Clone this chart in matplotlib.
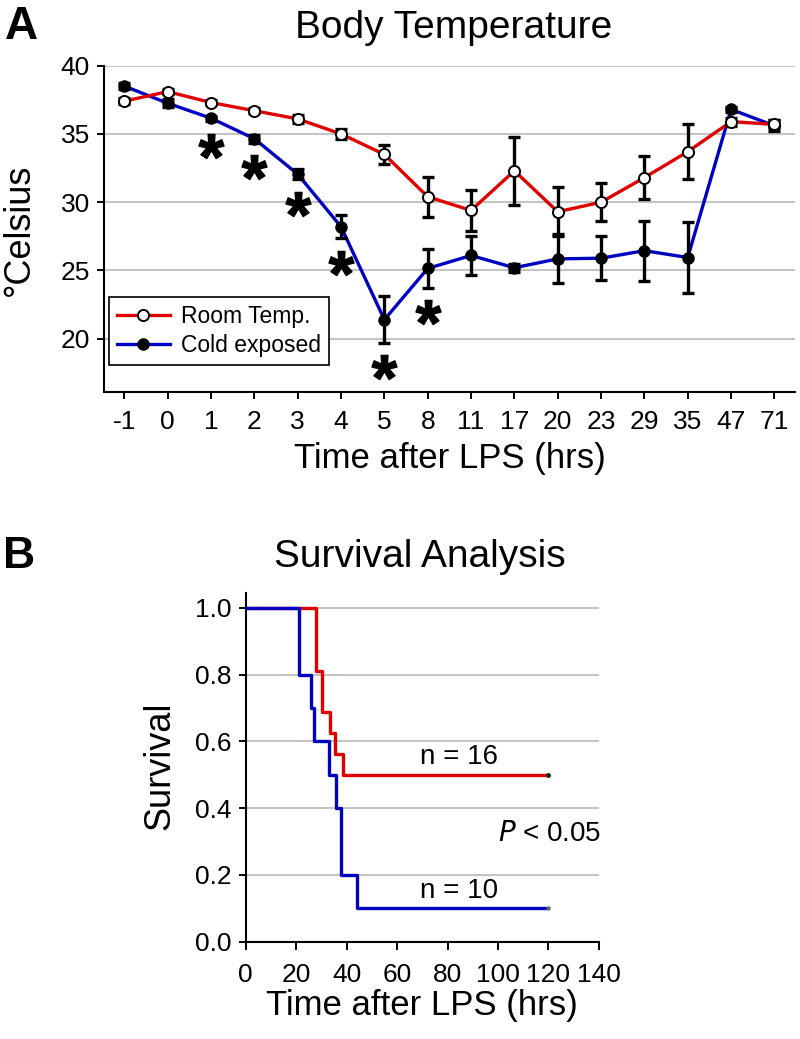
import matplotlib
matplotlib.use("Agg")
import matplotlib.pyplot as plt
import numpy as np
from matplotlib.lines import Line2D
from matplotlib.path import Path
from matplotlib.textpath import TextPath
from matplotlib.font_manager import FontProperties

plt.rcParams["font.family"] = ["Liberation Sans", "DejaVu Sans"]

# ── Panel A: body temperature (mean ± error, °C) ────────────────────────────
time_labels = ["-1", "0", "1", "2", "3", "4", "5", "8", "11", "17",
               "20", "23", "29", "35", "47", "71"]
room_temp = [37.4, 38.1, 37.3, 36.7, 36.1, 35.0, 33.5, 30.4, 29.4, 32.3,
             29.3, 30.0, 31.8, 33.7, 35.9, 35.7]
room_err = [0.2, 0.2, 0.2, 0.2, 0.3, 0.35, 0.7, 1.45, 1.5, 2.5,
            1.8, 1.4, 1.6, 2.0, 0.3, 0.3]
cold_temp = [38.5, 37.25, 36.15, 34.65, 32.05, 28.2, 21.4, 25.15, 26.1, 25.2,
             25.85, 25.9, 26.45, 25.95, 36.8, 35.6]
cold_err = [0.2, 0.3, 0.2, 0.3, 0.35, 0.85, 1.7, 1.4, 1.45, 0.3,
            1.8, 1.6, 2.2, 2.6, 0.2, 0.4]
significant = ["1", "2", "3", "4", "5", "8"]

# ── Panel B: Kaplan-Meier survival steps ────────────────────────────────────
room_surv_t = [0, 27.9, 30.1, 33.4, 35.4, 38.7, 120]
room_surv = [1.0, 0.8125, 0.6875, 0.625, 0.5625, 0.5, 0.5]
cold_surv_t = [0, 21.1, 25.9, 27.2, 33.0, 35.7, 37.9, 44.0, 120]
cold_surv = [1.0, 0.8, 0.7, 0.6, 0.5, 0.4, 0.2, 0.1, 0.1]
n_room, n_cold = 16, 10

RED = "#e00000"
BLUE = "#0000c0"
GRID = "#c4c4c4"

fig = plt.figure(figsize=(8.0, 10.39), dpi=100)


def style_axes(ax):
    for side in ("top", "right"):
        ax.spines[side].set_visible(False)
    for side in ("left", "bottom"):
        ax.spines[side].set_linewidth(1.5)
    ax.tick_params(direction="out", length=5, width=1.4, labelsize=19, pad=5)
    ax.yaxis.grid(True, color=GRID, linewidth=1.5)
    ax.set_axisbelow(True)


def star_marker():
    """Bold asterisk glyph as a marker path, centred on its ink."""
    tp = TextPath((0, 0), "*", prop=FontProperties(family="Liberation Sans",
                                                   weight="bold"))
    verts = tp.vertices.copy()
    codes = tp.codes
    ink = codes != Path.CLOSEPOLY
    verts -= (verts[ink].min(axis=0) + verts[ink].max(axis=0)) / 2
    verts[~ink] = 0
    return Path(verts, codes)


# ---------------- A ----------------
axA = fig.add_axes([0.13, 0.6227, 0.864, 0.3141])
style_axes(axA)
x = np.arange(len(time_labels))

axA.plot(x, cold_temp, color=BLUE, lw=2.4, zorder=2)
axA.plot(x, room_temp, color=RED, lw=2.4, zorder=2)
axA.errorbar(x, cold_temp, yerr=cold_err, fmt="none", ecolor="black",
             elinewidth=2.4, capsize=4.5, capthick=2.4, zorder=3)
axA.errorbar(x, room_temp, yerr=room_err, fmt="none", ecolor="black",
             elinewidth=2.4, capsize=4.5, capthick=2.4, zorder=3)
axA.plot(x, cold_temp, ls="none", marker="o", ms=8, mfc="black",
         mec="black", zorder=4)
axA.plot(x, room_temp, ls="none", marker="o", ms=8, mfc="white",
         mec="black", mew=1.4, zorder=5)

# significance asterisks below the cold-exposed points
sig_idx = [time_labels.index(t) for t in significant]
sig_y = [cold_temp[i] - cold_err[i] - 1.8 for i in sig_idx]
axA.plot(sig_idx, sig_y, ls="none", marker=star_marker(), ms=18,
         color="black", zorder=5)

axA.set_xlim(-0.47, 15.48)
axA.set_ylim(16.1, 40)
axA.set_yticks([20, 25, 30, 35, 40])
axA.set_xticks(x)
axA.set_xticklabels(time_labels)
axA.tick_params(axis="x", pad=8)
axA.set_xlabel("Time after LPS (hrs)", fontsize=25, labelpad=6)

handles = [
    Line2D([], [], color=RED, lw=2.4, marker="o", ms=8, mfc="white",
           mec="black", mew=1.4),
    Line2D([], [], color=BLUE, lw=2.4, marker="o", ms=8, mfc="black",
           mec="black"),
]
leg = axA.legend(handles, ["Room Temp.", "Cold exposed"], loc="lower left",
                 bbox_to_anchor=(0.007, 0.083), borderaxespad=0,
                 fontsize=16.5, frameon=True, fancybox=False, framealpha=1,
                 handlelength=2.3, handletextpad=0.5, borderpad=0.35,
                 labelspacing=0.25)
leg.get_frame().set_edgecolor("black")
leg.get_frame().set_linewidth(1.2)

fig.text(19 / 800, 1 - 230 / 1039, "°Celsius", rotation=90, fontsize=26,
         ha="center", va="center")
fig.text(454 / 800, 1 - 38 / 1039, "Body Temperature", fontsize=28,
         ha="center", va="baseline")
fig.text(0.006, 1 - 39 / 1039, "A", fontsize=33, fontweight="bold",
         va="baseline")

# ---------------- B ----------------
axB = fig.add_axes([0.3071, 0.0936, 0.4416, 0.3357])
style_axes(axB)
axB.step(room_surv_t, room_surv, where="post", color=RED, lw=2.4, zorder=3)
axB.step(cold_surv_t, cold_surv, where="post", color=BLUE, lw=2.4, zorder=3)
axB.plot(room_surv_t[-1], room_surv[-1], marker="o", ms=2.5, color="#222222",
         zorder=4)
axB.plot(cold_surv_t[-1], cold_surv[-1], marker="o", ms=2, color="#666666",
         zorder=4)

axB.set_xlim(0, 140)
axB.set_ylim(0, 1.045)
axB.set_xticks(np.arange(0, 141, 20))
axB.set_yticks(np.arange(0, 1.01, 0.2))
axB.set_yticklabels([f"{v:.1f}" for v in np.arange(0, 1.01, 0.2)])
axB.tick_params(axis="x", length=6, pad=9)
axB.set_xlabel("Time after LPS (hrs)", fontsize=25, labelpad=2)

axB.text(84.6, 0.553, f"n = {n_room}", fontsize=20, ha="center", va="center")
axB.text(84.6, 0.152, f"n = {n_cold}", fontsize=20, ha="center", va="center")
axB.text(141, 0.323, "$\\mathit{P}$ < 0.05", fontsize=20, ha="right",
         va="center")

fig.text(160 / 800, 1 - 766 / 1039, "Survival", rotation=90, fontsize=26,
         ha="center", va="center")
fig.text(420 / 800, 1 - 567 / 1039, "Survival Analysis", fontsize=28,
         ha="center", va="baseline")
fig.text(0.004, 1 - 568 / 1039, "B", fontsize=32, fontweight="bold",
         va="baseline")

fig.savefig("out.png", dpi=100)
